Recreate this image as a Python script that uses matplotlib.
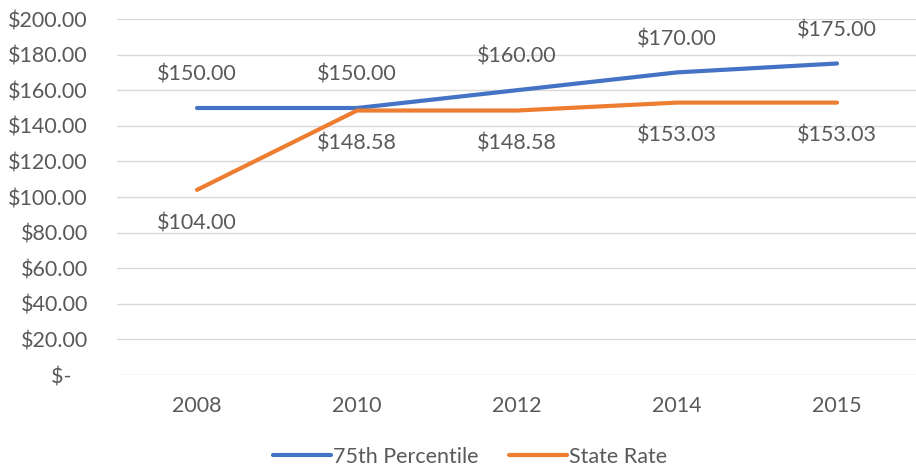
import matplotlib.pyplot as plt

years = ['2008', '2010', '2012', '2014', '2015']
pct75 = [150.00, 150.00, 160.00, 170.00, 175.00]
state_rate = [104.00, 148.58, 148.58, 153.03, 153.03]
yticks = [0, 20, 40, 60, 80, 100, 120, 140, 160, 180, 200]

plt.rcParams['font.family'] = ['Lato', 'DejaVu Sans']
grey = '#595959'
fs = 15.5

fig = plt.figure(figsize=(9.16, 4.73), dpi=100)
ax = fig.add_axes([117/916, 1 - 375/473, 800/916, 356/473])

x = list(range(len(years)))
ax.plot(x, pct75, color='#4472C4', lw=3, solid_capstyle='round', label='75th Percentile')
ax.plot(x, state_rate, color='#ED7D31', lw=3, solid_capstyle='round', label='State Rate')

# data labels: blue above, orange below
for i, v in enumerate(pct75):
    ax.annotate(f'${v:.2f}', (i, v), xytext=(0, 24), textcoords='offset points',
                ha='center', va='center', fontsize=fs, color=grey)
for i, v in enumerate(state_rate):
    ax.annotate(f'${v:.2f}', (i, v), xytext=(0, -24), textcoords='offset points',
                ha='center', va='center', fontsize=fs, color=grey)

ax.set_xlim(-0.5, len(years) - 0.5)
ax.set_ylim(0, 200)
ax.set_xticks(x)
ax.set_xticklabels(years)
ax.set_yticks(yticks)
ax.set_yticklabels([f'${t:.2f}' if t else '$-   ' for t in yticks])
ax.tick_params(axis='both', length=0, labelsize=fs, colors=grey)
ax.tick_params(axis='x', pad=15)
ax.tick_params(axis='y', pad=21)
ax.grid(axis='y', color='#D9D9D9', lw=1)
ax.set_axisbelow(True)
for s in ax.spines.values():
    s.set_visible(False)

fig.legend(loc='center', bbox_to_anchor=(470/916, 16/473), ncol=2, frameon=False,
           fontsize=fs, labelcolor=grey, handlelength=2.7, handletextpad=0.1,
           columnspacing=1.4)

fig.savefig('out.png', dpi=100)
